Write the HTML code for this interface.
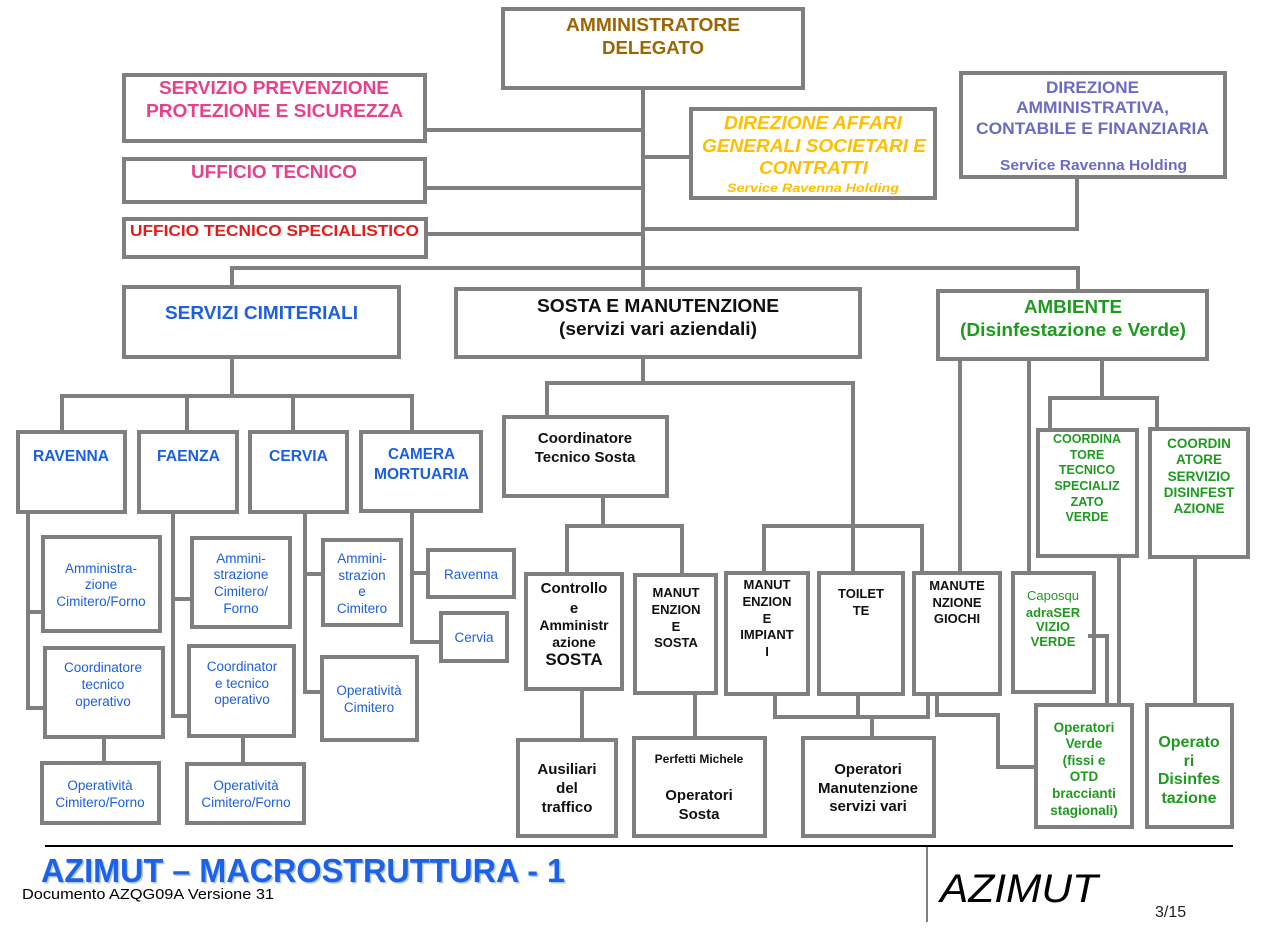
<!DOCTYPE html>
<html><head><meta charset="utf-8"><style>
html,body{margin:0;padding:0;background:#fff;}
svg{display:block;}
text{font-family:"Liberation Sans",Arial,sans-serif;}
.b{font-weight:bold;}
.r{fill:none;stroke:#7f7f7f;stroke-width:4;}
.l{fill:none;stroke:#7f7f7f;stroke-width:4;stroke-linecap:square;stroke-linejoin:miter;}
.bl{fill:#1c5fe0;}
.gr{fill:#1f9a1f;}
.bk{fill:#111;}
</style></head><body>
<svg width="1268" height="932" viewBox="0 0 1268 932" xmlns="http://www.w3.org/2000/svg">
<rect width="1268" height="932" fill="#fff"/>

<!-- connectors -->
<g class="l">
<path d="M643 90 V268"/>
<path d="M427 130 H643"/>
<path d="M427 188 H643"/>
<path d="M428 234 H643"/>
<path d="M643 157 H689"/>
<path d="M643 229 H1077 V179"/>
<path d="M232 285 V268 H1078 V289"/>
<path d="M643 268 V287"/>
<!-- cimiteriali -->
<path d="M232 359 V396"/>
<path d="M62 430 V396 H412 V430"/>
<path d="M187 396 V430"/>
<path d="M293 396 V430"/>
<path d="M28 514 V708 H43"/>
<path d="M28 612 H41"/>
<path d="M104 739 V761"/>
<path d="M173 514 V716 H187"/>
<path d="M173 599 H190"/>
<path d="M243 738 V762"/>
<path d="M305 514 V692 H320"/>
<path d="M305 574 H321"/>
<path d="M412 513 V642 H439"/>
<path d="M412 573 H426"/>
<!-- sosta -->
<path d="M643 359 V383"/>
<path d="M547 415 V383 H853 V526"/>
<path d="M603 498 V526"/>
<path d="M567 572 V526 H682 V573"/>
<path d="M764 571 V526 H922 V571"/>
<path d="M853 526 V571"/>
<path d="M582 691 V738"/>
<path d="M695 695 V736"/>
<path d="M775 696 V717 H928 V696"/>
<path d="M858 696 V717"/>
<path d="M872 717 V736"/>
<path d="M937 696 V715 H998 V767 H1034"/>
<!-- ambiente -->
<path d="M960 361 V571"/>
<path d="M1029 361 V571"/>
<path d="M1102 361 V398"/>
<path d="M1050 428 V398 H1157 V427"/>
<path d="M1119 558 V703"/>
<path d="M1195 559 V703"/>
<path d="M1090 636 H1107 V703"/>
</g>

<!-- boxes -->
<g class="r" fill="#fff">
<rect x="503" y="9" width="300" height="79" fill="#fff"/>
<rect x="124" y="75" width="301" height="66" fill="#fff"/>
<rect x="124" y="159" width="301" height="43" fill="#fff"/>
<rect x="124" y="219" width="302" height="38" fill="#fff"/>
<rect x="691" y="109" width="244" height="89" fill="#fff"/>
<rect x="961" y="73" width="264" height="104" fill="#fff"/>
<rect x="124" y="287" width="275" height="70" fill="#fff"/>
<rect x="456" y="289" width="404" height="68" fill="#fff"/>
<rect x="938" y="291" width="269" height="68" fill="#fff"/>
<rect x="18" y="432" width="107" height="80" fill="#fff"/>
<rect x="139" y="432" width="98" height="80" fill="#fff"/>
<rect x="250" y="432" width="97" height="80" fill="#fff"/>
<rect x="361" y="432" width="120" height="79" fill="#fff"/>
<rect x="43" y="537" width="117" height="94" fill="#fff"/>
<rect x="45" y="648" width="118" height="89" fill="#fff"/>
<rect x="42" y="763" width="117" height="60" fill="#fff"/>
<rect x="192" y="538" width="98" height="89" fill="#fff"/>
<rect x="189" y="646" width="105" height="90" fill="#fff"/>
<rect x="187" y="764" width="117" height="59" fill="#fff"/>
<rect x="323" y="540" width="78" height="85" fill="#fff"/>
<rect x="322" y="657" width="95" height="83" fill="#fff"/>
<rect x="428" y="550" width="86" height="47" fill="#fff"/>
<rect x="441" y="613" width="66" height="48" fill="#fff"/>
<rect x="504" y="417" width="163" height="79" fill="#fff"/>
<rect x="526" y="574" width="96" height="115" fill="#fff"/>
<rect x="635" y="575" width="81" height="118" fill="#fff"/>
<rect x="726" y="573" width="82" height="121" fill="#fff"/>
<rect x="819" y="573" width="84" height="121" fill="#fff"/>
<rect x="914" y="573" width="86" height="121" fill="#fff"/>
<rect x="518" y="740" width="98" height="96" fill="#fff"/>
<rect x="634" y="738" width="131" height="98" fill="#fff"/>
<rect x="803" y="738" width="131" height="98" fill="#fff"/>
<rect x="1038" y="430" width="99" height="126" fill="#fff"/>
<rect x="1150" y="429" width="98" height="128" fill="#fff"/>
<rect x="1013" y="573" width="81" height="119" fill="#fff"/>
<rect x="1036" y="705" width="96" height="122" fill="#fff"/>
<rect x="1147" y="705" width="85" height="122" fill="#fff"/>
</g>
<!-- redraw small connector inside caposquadra -->
<path d="M1090 636 H1107" class="l"/>

<!-- top texts -->
<g class="b" text-anchor="middle">
<text x="653" y="31" font-size="18" fill="#9c6500" textLength="174" lengthAdjust="spacingAndGlyphs">AMMINISTRATORE</text>
<text x="653" y="54" font-size="18" fill="#9c6500" textLength="102" lengthAdjust="spacingAndGlyphs">DELEGATO</text>

<text x="274" y="94" font-size="18" fill="#e8408a" textLength="230" lengthAdjust="spacingAndGlyphs">SERVIZIO PREVENZIONE</text>
<text x="274.5" y="117" font-size="18" fill="#e8408a" textLength="257" lengthAdjust="spacingAndGlyphs">PROTEZIONE E SICUREZZA</text>
<text x="274" y="178" font-size="18" fill="#e8408a" textLength="166" lengthAdjust="spacingAndGlyphs">UFFICIO TECNICO</text>
<text x="274.5" y="236" font-size="16" fill="#e31b1b" textLength="289" lengthAdjust="spacingAndGlyphs">UFFICIO TECNICO SPECIALISTICO</text>

<g font-style="italic" fill="#ffbf00">
<text x="813" y="129" font-size="18" textLength="178" lengthAdjust="spacingAndGlyphs">DIREZIONE AFFARI</text>
<text x="814" y="152" font-size="18" textLength="224" lengthAdjust="spacingAndGlyphs">GENERALI SOCIETARI E</text>
<text x="813.5" y="174" font-size="18" textLength="109" lengthAdjust="spacingAndGlyphs">CONTRATTI</text>
<text x="813" y="192" font-size="12" textLength="172" lengthAdjust="spacingAndGlyphs">Service  Ravenna Holding</text>
</g>

<g fill="#6b6bc6" font-size="17">
<text x="1092.5" y="93" textLength="93" lengthAdjust="spacingAndGlyphs">DIREZIONE</text>
<text x="1092.5" y="113" textLength="153" lengthAdjust="spacingAndGlyphs">AMMINISTRATIVA,</text>
<text x="1092.5" y="134" textLength="233" lengthAdjust="spacingAndGlyphs">CONTABILE E FINANZIARIA</text>
<text x="1093.5" y="170" font-size="15" textLength="187" lengthAdjust="spacingAndGlyphs">Service Ravenna Holding</text>
</g>

<text x="261.5" y="319" font-size="18" class="bl" textLength="193" lengthAdjust="spacingAndGlyphs">SERVIZI CIMITERIALI</text>
<text x="658" y="312" font-size="18" class="bk" textLength="242" lengthAdjust="spacingAndGlyphs">SOSTA E MANUTENZIONE</text>
<text x="658" y="335" font-size="18" class="bk" textLength="198" lengthAdjust="spacingAndGlyphs">(servizi vari aziendali)</text>
<text x="1073" y="313" font-size="18" class="gr" textLength="98" lengthAdjust="spacingAndGlyphs">AMBIENTE</text>
<text x="1073" y="336" font-size="18" class="gr" textLength="226" lengthAdjust="spacingAndGlyphs">(Disinfestazione e Verde)</text>

<g class="bl" font-size="16">
<text x="71" y="461" textLength="76" lengthAdjust="spacingAndGlyphs">RAVENNA</text>
<text x="188.5" y="461" textLength="63" lengthAdjust="spacingAndGlyphs">FAENZA</text>
<text x="298.5" y="461" textLength="59" lengthAdjust="spacingAndGlyphs">CERVIA</text>
<text x="421.5" y="459" textLength="67" lengthAdjust="spacingAndGlyphs">CAMERA</text>
<text x="421.5" y="479" textLength="95" lengthAdjust="spacingAndGlyphs">MORTUARIA</text>
</g>
</g>

<!-- small blue texts -->
<g class="bl" font-size="13.5" text-anchor="middle">
<text x="101" y="573">Amministra-</text>
<text x="101" y="589">zione</text>
<text x="101" y="606">Cimitero/Forno</text>
<text x="103" y="672">Coordinatore</text>
<text x="103" y="689">tecnico</text>
<text x="103" y="706">operativo</text>
<text x="100" y="790">Operatività</text>
<text x="100" y="807">Cimitero/Forno</text>
<text x="241" y="563">Ammini-</text>
<text x="241" y="579">strazione</text>
<text x="241" y="596">Cimitero/</text>
<text x="241" y="613">Forno</text>
<text x="242" y="671">Coordinator</text>
<text x="242" y="688">e tecnico</text>
<text x="242" y="704">operativo</text>
<text x="246" y="790">Operatività</text>
<text x="246" y="807">Cimitero/Forno</text>
<text x="362" y="563">Ammini-</text>
<text x="362" y="580">strazion</text>
<text x="362" y="596">e</text>
<text x="362" y="613">Cimitero</text>
<text x="369" y="695">Operatività</text>
<text x="369" y="712">Cimitero</text>
<text x="471" y="579">Ravenna</text>
<text x="474" y="642">Cervia</text>
</g>

<!-- sosta black texts -->
<g class="bk b" text-anchor="middle">
<text x="585" y="443" font-size="15">Coordinatore</text>
<text x="585" y="462" font-size="15">Tecnico Sosta</text>
<text x="574" y="593" font-size="15">Controllo</text>
<text x="574" y="613" font-size="15">e</text>
<text x="574" y="630" font-size="14">Amministr</text>
<text x="574" y="647" font-size="14">azione</text>
<text x="574" y="665" font-size="17">SOSTA</text>
<text x="676" y="597" font-size="13">MANUT</text>
<text x="676" y="614" font-size="13">ENZION</text>
<text x="676" y="631" font-size="13">E</text>
<text x="676" y="647" font-size="13">SOSTA</text>
<text x="767" y="589" font-size="13">MANUT</text>
<text x="767" y="606" font-size="13">ENZION</text>
<text x="767" y="623" font-size="13">E</text>
<text x="767" y="639" font-size="13">IMPIANT</text>
<text x="767" y="656" font-size="13">I</text>
<text x="861" y="598" font-size="13">TOILET</text>
<text x="861" y="615" font-size="13">TE</text>
<text x="957" y="590" font-size="13">MANUTE</text>
<text x="957" y="607" font-size="13">NZIONE</text>
<text x="957" y="623" font-size="13">GIOCHI</text>
<text x="567" y="774" font-size="15">Ausiliari</text>
<text x="567" y="793" font-size="15">del</text>
<text x="567" y="812" font-size="15">traffico</text>
<text x="699" y="763" font-size="12">Perfetti Michele</text>
<text x="699" y="800" font-size="15">Operatori</text>
<text x="699" y="819" font-size="15">Sosta</text>
<text x="868" y="774" font-size="15">Operatori</text>
<text x="868" y="793" font-size="15">Manutenzione</text>
<text x="868" y="811" font-size="15">servizi vari</text>
</g>

<!-- green texts -->
<g class="gr b" text-anchor="middle">
<text x="1087" y="443" font-size="12.5">COORDINA</text>
<text x="1087" y="459" font-size="12.5">TORE</text>
<text x="1087" y="474" font-size="12.5">TECNICO</text>
<text x="1087" y="490" font-size="12.5">SPECIALIZ</text>
<text x="1087" y="506" font-size="12.5">ZATO</text>
<text x="1087" y="521" font-size="12.5">VERDE</text>
<text x="1199" y="448" font-size="13.5">COORDIN</text>
<text x="1199" y="464" font-size="13.5">ATORE</text>
<text x="1199" y="481" font-size="13.5">SERVIZIO</text>
<text x="1199" y="497" font-size="13.5">DISINFEST</text>
<text x="1199" y="513" font-size="13.5">AZIONE</text>
<text x="1053" y="600" font-size="13" font-weight="normal">Caposqu</text>
<text x="1053" y="617" font-size="13">adraSER</text>
<text x="1053" y="631" font-size="13">VIZIO</text>
<text x="1053" y="646" font-size="13">VERDE</text>
<text x="1084" y="732" font-size="13.5">Operatori</text>
<text x="1084" y="748" font-size="13.5">Verde</text>
<text x="1084" y="765" font-size="13.5">(fissi e</text>
<text x="1084" y="781" font-size="13.5">OTD</text>
<text x="1084" y="798" font-size="13.5">braccianti</text>
<text x="1084" y="815" font-size="13.5">stagionali)</text>
<text x="1189" y="747" font-size="16">Operato</text>
<text x="1189" y="766" font-size="16">ri</text>
<text x="1189" y="784" font-size="16">Disinfes</text>
<text x="1189" y="803" font-size="16">tazione</text>
</g>

<!-- footer -->
<line x1="45" y1="846" x2="1233" y2="846" stroke="#000" stroke-width="2"/>
<line x1="927" y1="846" x2="927" y2="922" stroke="#000" stroke-width="1"/>
<text x="42.5" y="883.5" font-size="33" font-weight="bold" fill="#b8c8e2" textLength="524" lengthAdjust="spacingAndGlyphs">AZIMUT – MACROSTRUTTURA - 1</text>
<text x="41" y="882" font-size="33" font-weight="bold" fill="#1a62ea" textLength="524" lengthAdjust="spacingAndGlyphs">AZIMUT – MACROSTRUTTURA - 1</text>
<text x="22" y="899" font-size="15" fill="#000" textLength="252" lengthAdjust="spacingAndGlyphs">Documento AZQG09A  Versione  31</text>
<text x="940" y="902" font-size="40" font-style="italic" fill="#000" textLength="158" lengthAdjust="spacingAndGlyphs">AZIMUT</text>
<text x="1155" y="917" font-size="16" fill="#222">3/15</text>
</svg>
</body></html>
